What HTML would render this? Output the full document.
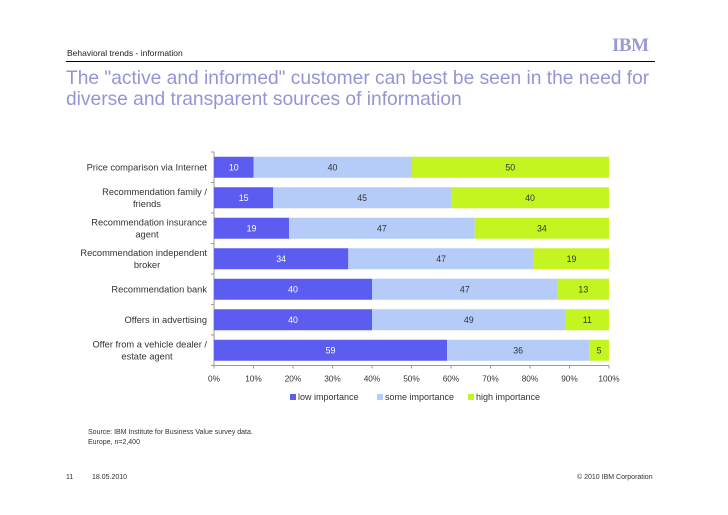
<!DOCTYPE html>
<html><head><meta charset="utf-8"><style>
body{margin:0;width:728px;height:515px;background:#fff;font-family:"Liberation Sans",sans-serif;position:relative;overflow:hidden}
.a{position:absolute;white-space:nowrap}
</style></head><body>
<div class="a" style="left:67px;top:48px;font-size:8.5px;color:#222">Behavioral trends - information</div>
<div class="a" style="left:612px;top:35px;font-size:19px;font-weight:bold;color:#9a9ad4;letter-spacing:-0.5px;font-family:'Liberation Serif',serif">IBM</div>
<div class="a" style="left:66px;top:61px;width:589px;height:1px;background:#000"></div>
<div class="a" style="left:66px;top:68px;font-size:19.2px;line-height:21px;color:#9595d6">The "active and informed" customer can best be seen in the need for<br>diverse and transparent sources of information</div>
<svg class="a" style="left:0;top:0" width="728" height="515" id="chart"></svg>
<div class="a" style="left:88px;top:428px;font-size:7px;line-height:10px;color:#333">Source: IBM Institute for Business Value survey data.<br>Europe, n=2,400</div>
<div class="a" style="left:66px;top:474px;font-size:7px;color:#333">11</div>
<div class="a" style="left:92px;top:474px;font-size:7px;color:#333">18.05.2010</div>
<div class="a" style="left:577px;top:474px;font-size:7px;color:#333">© 2010 IBM Corporation</div>
<script>
const categories=[["Price comparison via Internet"],["Recommendation family /","friends"],["Recommendation insurance","agent"],["Recommendation independent","broker"],["Recommendation bank"],["Offers in advertising"],["Offer from a vehicle dealer /","estate agent"]];
const lowValues=[10,15,19,34,40,40,59];
const someValues=[40,45,47,47,47,49,36];
const highValues=[50,40,34,19,13,11,5];
const tickLabels=["0%","10%","20%","30%","40%","50%","60%","70%","80%","90%","100%"];
const seriesNames=["low importance","some importance","high importance"];
const NS="http://www.w3.org/2000/svg",svg=document.getElementById('chart');
const colors=["#5c5cf0","#b6ccf8","#c4f521"];
const x0=214,x1=609,yTop=152,band=30.5,bh=21;
const xs=v=>x0+(x1-x0)*v/100;
const yc=i=>yTop+band*(i+0.5);
function mk(t,a){const e=document.createElementNS(NS,t);for(const k in a)e.setAttribute(k,a[k]);svg.appendChild(e);return e;}
let ax=mk('line',{x1:x0,y1:yTop,x2:x0,y2:yTop+band*7,stroke:'#999','stroke-width':1});


let bx=mk('line',{x1:x0,y1:yTop+band*7,x2:x1,y2:yTop+band*7,stroke:'#999','stroke-width':1});


tickLabels.forEach((t,i)=>{const x=xs(i*10);
 mk('line',{x1:x,y1:yTop+band*7,x2:x,y2:yTop+band*7+3,stroke:'#999'});
 const e=mk('text',{x:x,y:yTop+band*7+16,'font-size':8.3,'text-anchor':'middle',fill:'#333'});e.textContent=t;
 
 });
for(let i=0;i<=7;i++)mk('line',{x1:x0-3,y1:yTop+band*i,x2:x0,y2:yTop+band*i,stroke:'#999'});
categories.forEach((c,i)=>{const y=yc(i);
 const lines=c;const e=mk('text',{x:207,'font-size':9.3,'text-anchor':'end',fill:'#333'});
 
 
 lines.forEach((l,j)=>{const ts=document.createElementNS(NS,'tspan');ts.setAttribute('x',207);ts.setAttribute('y',y+3+(lines.length>1?(j-0.5)*12:0));ts.textContent=l;e.appendChild(ts);});
 if(lines.length>1){e.childNodes[1].setAttribute('text-anchor','middle');e.childNodes[1].setAttribute('x',147);}
 let s=0;[lowValues[i],someValues[i],highValues[i]].forEach((v,k)=>{
  const r=mk('rect',{x:xs(s),y:y-bh/2,width:xs(s+v)-xs(s),height:bh,fill:colors[k]});
  
  
  const t=mk('text',{x:(xs(s)+xs(s+v))/2,y:y+3,'font-size':8.8,'text-anchor':'middle',fill:k==0?'#fff':'#333'});t.textContent=v;
  
  
  s+=v;});
});
const lx=[290,377,468];
seriesNames.forEach((n,k)=>{const r=mk('rect',{x:lx[k],y:394,width:6,height:6,fill:colors[k]});
 
 
 const t=mk('text',{x:lx[k]+8,y:400,'font-size':9,fill:'#333'});t.textContent=n;
 
 });
</script>
</body></html>
